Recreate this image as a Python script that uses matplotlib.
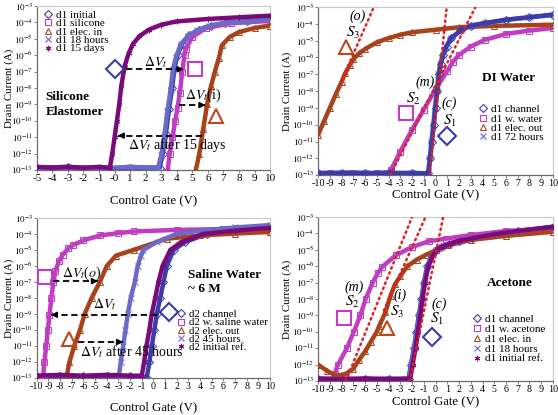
import numpy as np
import matplotlib
matplotlib.use('Agg')
import matplotlib.pyplot as plt
from matplotlib.lines import Line2D
from matplotlib.ticker import FixedLocator, NullLocator

plt.rcParams['font.family'] = ['Liberation Serif', 'DejaVu Serif']
plt.rcParams['mathtext.fontset'] = 'stix'

C_CH = '#3c3ca8'
C_WET = '#c03cc0'
C_EL = '#a8421a'
C_HR = '#6a6ac8'
C_REF = '#7a0a7a'
C_SLOPE = '#e02020'
STAR = (6, 2, 0)

# ---- top left: silicone elastomer (log10 of drain current) ----
tl_v_initial = [-5, -3, -1, 1, 2.9, 3.1, 3.3, 3.5, 3.7, 3.85, 4.05, 4.35, 4.8, 5.4, 6.2, 7.1, 8.5, 10]
tl_i_initial = [-12.85, -12.8, -12.9, -12.85, -12.85, -12.0, -10.8, -9.3, -8.0, -6.8, -6.0, -5.3, -4.8, -4.46, -4.2, -4.05, -3.95, -3.85]
tl_v_silicone = [3.4, 3.55, 3.72, 3.9, 4.05, 4.2, 4.35, 4.5, 4.6, 5.0, 5.85, 7.5, 10]
tl_i_silicone = [-13.1, -12.0, -11.0, -10.0, -9.2, -8.3, -7.0, -6.0, -5.6, -4.9, -4.36, -4.06, -3.92]
tl_v_elec = [5.2, 5.45, 5.7, 5.95, 6.2, 6.45, 6.7, 6.9, 7.4, 8.0, 9.0, 10]
tl_i_elec = [-13.1, -12.0, -10.5, -9.0, -7.9, -7.0, -6.2, -5.4, -4.9, -4.6, -4.35, -4.2]
tl_v_18h = [-5, -3, -1, 1, 2.8, 3.0, 3.2, 3.4, 3.6, 3.75, 3.95, 4.25, 4.7, 5.3, 6.1, 7.0, 8.5, 10]
tl_i_18h = [-12.9, -12.85, -12.9, -12.8, -12.85, -12.1, -10.9, -9.4, -8.1, -6.9, -6.1, -5.35, -4.85, -4.5, -4.22, -4.05, -3.93, -3.83]
tl_v_15d = [-5, -4, -3, -2, -1, -0.3, -0.15, 0, 0.15, 0.3, 0.43, 0.64, 0.9, 1.2, 1.6, 2.2, 3, 4, 6, 8, 10]
tl_i_15d = [-12.8, -12.85, -12.8, -12.85, -12.8, -12.85, -12.0, -11.0, -10.0, -9.0, -7.9, -6.7, -5.9, -5.3, -4.85, -4.45, -4.15, -3.95, -3.8, -3.7, -3.6]
tl_labels = ['d1 initial', 'd1 silicone', 'd1 elec. in', 'd1 18 hours', 'd1 15 days']

# ---- top right: DI water ----
tr_v_channel = [-10, -8, -6, -4, -2, -0.6, -0.45, -0.3, -0.15, 0, 0.15, 0.3, 0.45, 0.65, 0.94, 1.36, 2.2, 3, 4.2, 6, 8, 10]
tr_i_channel = [-12.9, -12.85, -12.9, -12.85, -12.9, -12.9, -12.0, -11.0, -10.0, -9.0, -8.0, -7.0, -6.4, -5.85, -5.35, -4.85, -4.35, -4.1, -3.95, -3.75, -3.6, -3.45]
tr_v_water = [-9, -7, -5, -4, -3.8, -3, -2, -1, 0, 1, 1.5, 2, 3, 4.2, 6, 8, 10]
tr_i_water = [-12.9, -12.85, -12.9, -12.85, -12.7, -11.6, -10.3, -9.1, -7.9, -6.8, -6.25, -5.85, -5.35, -4.95, -4.6, -4.4, -4.25]
tr_v_elec = [-10, -9.5, -9, -8.5, -8, -7.7, -7.3, -7, -6.5, -6, -5, -4, -3, -2, 0, 2, 5, 10]
tr_i_elec = [-10.6, -9.8, -9.0, -8.2, -7.45, -6.95, -6.45, -6.1, -5.75, -5.5, -5.1, -4.85, -4.65, -4.5, -4.35, -4.2, -4.12, -4.05]
tr_v_72h = [-10, -8, -6, -4, -2, -0.65, -0.5, -0.35, -0.2, -0.05, 0.1, 0.25, 0.4, 0.6, 0.9, 1.3, 2.2, 3, 4.2, 6, 8, 10]
tr_i_72h = [-12.85, -12.9, -12.85, -12.9, -12.85, -12.9, -12.0, -11.0, -10.0, -9.0, -8.0, -7.0, -6.4, -5.85, -5.35, -4.85, -4.37, -4.12, -3.97, -3.77, -3.62, -3.47]
tr_slope_v = [[-8.0, -5.25], [-0.5, 0.95], [-3.85, 3.4]]
tr_slope_i = [[-7.4, -3.0], [-13.0, -3.0], [-13.0, -3.0]]
tr_labels = ['d1 channel', 'd1 w. water', 'd1 elec. out', 'd1 72 hours']

# ---- bottom left: saline water ----
bl_v_channel = [-10, -8, -6, -4, -2, -0.58, -0.35, -0.14, 0.08, 0.29, 0.58, 0.86, 1.15, 1.73, 2.73, 4.6, 7, 10]
bl_i_channel = [-12.9, -12.85, -12.9, -12.85, -12.9, -13.0, -12.0, -11.0, -10.0, -9.0, -8.0, -7.0, -6.0, -5.0, -4.5, -4.0, -3.7, -3.5]
bl_v_saline = [-9.5, -9.35, -9.2, -9.05, -8.92, -8.75, -8.58, -8.4, -8.1, -7.77, -7.3, -6.9, -6, -4.6, -3, -1.7, 2, 6, 10]
bl_i_saline = [-13.2, -12.0, -11.0, -10.0, -9.05, -8.0, -7.0, -6.3, -5.7, -5.3, -4.9, -4.7, -4.4, -4.1, -3.95, -3.85, -3.75, -3.7, -3.65]
bl_v_elec = [-7.5, -7.2, -6.8, -6.3, -5.9, -5.3, -4.6, -4.0, -3.2, -1.7, 1.15, 4, 7, 10]
bl_i_elec = [-13.1, -12.0, -11.0, -10.0, -9.0, -8.0, -7.0, -6.0, -5.35, -5.0, -4.3, -4.1, -3.98, -3.88]
bl_v_45h = [-3.0, -2.8, -2.6, -2.4, -2.2, -1.95, -1.6, -1.35, -1.1, -0.86, 0.29, 2.0, 4, 7, 10]
bl_i_45h = [-13.0, -12.0, -11.0, -10.0, -9.0, -8.0, -7.0, -6.0, -5.4, -5.0, -4.5, -4.0, -3.8, -3.6, -3.45]
bl_v_ref = [-10, -8, -6, -4, -2, -1.0, -0.8, -0.6, -0.35, -0.15, 0.15, 0.43, 0.78, 1.45, 2.4, 4.3, 7, 10]
bl_i_ref = [-12.85, -12.8, -12.85, -12.8, -12.85, -12.85, -12.0, -11.0, -10.0, -9.0, -8.0, -7.0, -6.0, -5.0, -4.5, -4.0, -3.8, -3.62]
bl_labels = ['d2 channel', 'd2 w. saline water', 'd2 elec. out', 'd2 45 hours', 'd2 initial ref.']

# ---- bottom right: acetone ----
br_v_channel = [-10, -8, -6, -4, -2.3, -2.1, -1.84, -1.63, -1.42, -1.2, -0.99, -0.71, -0.3, 0, 0.5, 1.13, 2, 3.1, 5, 7, 10]
br_i_channel = [-12.9, -12.85, -12.9, -12.85, -12.9, -12.0, -11.0, -10.0, -9.0, -8.0, -7.0, -6.0, -5.3, -5.0, -4.8, -4.63, -4.45, -4.3, -4.05, -3.85, -3.6]
br_v_acetone = [-8.9, -8.6, -8.3, -7.55, -6.95, -6.4, -5.95, -5.35, -4.9, -4.55, -3.4, -2.0, -0.57, 0.85, 3, 6, 10]
br_i_acetone = [-13.1, -12.6, -12.0, -11.0, -10.0, -9.0, -8.0, -7.0, -6.4, -6.05, -5.34, -4.83, -4.48, -4.32, -4.1, -3.85, -3.7]
br_v_elec = [-10, -9.2, -8.4, -7.6, -7.0, -6.5, -6.0, -5.5, -5.0, -4.8, -4.26, -3.83, -3.45, -3.0, -2.4, -1.6, -0.8, 0, 1.1, 3, 6, 10]
br_i_elec = [-12.0, -12.4, -12.7, -12.55, -12.25, -11.7, -11.2, -10.6, -10.0, -9.65, -8.8, -7.8, -7.1, -6.6, -6.0, -5.6, -5.3, -5.03, -4.73, -4.4, -4.15, -3.9]
br_v_18h = [-10, -8, -6, -4, -2.25, -2.05, -1.8, -1.58, -1.37, -1.15, -0.95, -0.66, -0.25, 0.05, 0.55, 1.15, 2, 3.1, 5, 7, 10]
br_i_18h = [-12.85, -12.9, -12.85, -12.9, -12.85, -12.0, -11.0, -10.0, -9.0, -8.0, -7.0, -6.0, -5.3, -5.0, -4.8, -4.63, -4.45, -4.3, -4.05, -3.85, -3.6]
br_v_ref = [-10, -8, -6, -4, -2.15, -1.95, -1.7, -1.5, -1.3, -1.1, -0.9, -0.6, -0.2, 0.1, 0.6, 1.2, 2, 3.1, 5, 7, 10]
br_i_ref = [-12.85, -12.9, -12.85, -12.9, -12.85, -12.0, -11.0, -10.0, -9.0, -8.0, -7.0, -6.0, -5.3, -5.0, -4.8, -4.63, -4.45, -4.3, -4.05, -3.85, -3.6]
br_slope_v = [[-7.8, -2.0], [-4.4, -0.85], [-2.2, 0.65]]
br_slope_i = [[-13.3, -3.0], [-8.7, -3.0], [-13.0, -3.0]]
br_labels = ['d1 channel', 'd1 w. acetone', 'd1 elec. in', 'd1 18 hours', 'd1 initial ref.']

STYLES = [('D', C_CH), ('s', C_WET), ('^', C_EL), ('x', C_HR), (STAR, C_REF)]


def setup_axes(ax, xmin, ylab_x, xlab_y, zero_label='0'):
    ax.set_yscale('log')
    ax.set_xlim(xmin, 10)
    ax.set_ylim(1e-13, 1e-3)
    ax.yaxis.set_major_locator(FixedLocator([10.0 ** k for k in range(-13, -2)]))
    ax.yaxis.set_minor_locator(NullLocator())
    ax.set_yticklabels([r'$10^{%d}$' % k for k in range(-13, -2)])
    xt = list(range(xmin, 11))
    ax.set_xticks(xt)
    ax.set_xticklabels([zero_label if v == 0 else str(v) for v in xt])
    ax.tick_params(axis='both', direction='out', length=2, width=0.6, color='#707070', pad=1)
    ax.tick_params(axis='x', labelsize=7.2 if xmin < -5 else 8.0)
    ax.tick_params(axis='y', labelsize=6.6, pad=0.8)
    for s in ['left', 'bottom']:
        ax.spines[s].set_color('#6a6a6a')
        ax.spines[s].set_linewidth(0.9)
    for s in ['top', 'right']:
        ax.spines[s].set_color('#c8c8c8')
        ax.spines[s].set_linewidth(0.8)
    ax.set_xlabel('Control Gate (V)', fontsize=9.2)
    ax.set_ylabel('Drain Current (A)', fontsize=7.8)
    ax.yaxis.set_label_coords(ylab_x, 0.5)
    ax.xaxis.set_label_coords(0.5, xlab_y)


def draw_curves(ax, curves, labels, leg_xy, leg_space, zorders=None, fs=8):
    handles = []
    for k, (v, li) in enumerate(curves):
        m, c = STYLES[k]
        z = 2 + k if zorders is None else zorders[k]
        cur = 10.0 ** np.array(li)
        ax.plot(v, cur, color=c, lw=3.2, zorder=z, solid_capstyle='round')
        ax.plot(v, cur, ls='none', marker=m, ms=4, mfc='none', mec=c, mew=0.7, zorder=z)
        handles.append(Line2D([], [], ls='none', marker=m, ms=3.8, mfc='none', mec=c, mew=0.8))
    ax.legend(handles, labels, loc='upper left', bbox_to_anchor=leg_xy, frameon=False,
              fontsize=fs, handlelength=0.8, handletextpad=0.3, labelspacing=leg_space,
              borderpad=0, borderaxespad=0)


def big_mark(ax, x, ly, m, c, ms):
    ax.plot([x], [10.0 ** ly], marker=m, ms=ms, mfc='none', mec=c, mew=1.5, zorder=20)


def harrow(ax, x0, x1, ly):
    y = 10.0 ** ly
    ax.plot([x0, x1], [y, y], color='black', lw=1.3, ls=(0, (3.5, 2)), zorder=21)
    d = 0.35 if x1 > x0 else -0.35
    ax.annotate('', xy=(x1, y), xytext=(x1 - d, y),
                arrowprops=dict(arrowstyle='-|>', color='black', lw=1, mutation_scale=9,
                                shrinkA=0, shrinkB=0), zorder=22)


def slopes(ax, vs, ls):
    for v, li in zip(vs, ls):
        ax.plot(v, 10.0 ** np.array(li), color=C_SLOPE, lw=1.8, ls=(0, (0.6, 1.6)),
                dash_capstyle='round', zorder=30)


def txt(ax, x, ly, s, size=10, ha='center', **kw):
    ax.text(x, 10.0 ** ly, s, fontsize=size, ha=ha, va='center', zorder=25, **kw)


fig = plt.figure(figsize=(5.58, 4.15), dpi=100)
ax1 = fig.add_axes([0.066, 0.590, 0.418, 0.396])
ax2 = fig.add_axes([0.570, 0.578, 0.421, 0.405])
ax3 = fig.add_axes([0.066, 0.089, 0.418, 0.386])
ax4 = fig.add_axes([0.570, 0.082, 0.421, 0.395])

# top left
setup_axes(ax1, -5, -0.1, -0.146, '-0')
draw_curves(ax1, [(tl_v_initial, tl_i_initial), (tl_v_silicone, tl_i_silicone), (tl_v_elec, tl_i_elec),
                  (tl_v_18h, tl_i_18h), (tl_v_15d, tl_i_15d)], tl_labels, (0.03, 0.975), -0.12)
big_mark(ax1, 0.05, -6.85, 'D', C_CH, 9)
big_mark(ax1, 5.2, -6.85, 's', C_WET, 10)
big_mark(ax1, 6.5, -9.7, '^', '#c04818', 10)
harrow(ax1, 0.75, 4.45, -6.86)
harrow(ax1, 4.15, 5.85, -9.04)
harrow(ax1, 5.6, 0.2, -10.9)
txt(ax1, 2.65, -6.4, r'$\Delta V_t$')
txt(ax1, 4.55, -8.45, r'$\Delta V_t$(i)', ha='left')
txt(ax1, 0.85, -11.45, r'$\Delta V_t$ after 15 days', ha='left')
txt(ax1, -4.45, -9.0, 'Silicone\nElastomer', size=9.5, ha='left', fontweight='bold', linespacing=1.25)

# top right
setup_axes(ax2, -10, -0.11, -0.08)
draw_curves(ax2, [(tr_v_channel, tr_i_channel), (tr_v_water, tr_i_water), (tr_v_elec, tr_i_elec),
                  (tr_v_72h, tr_i_72h)], tr_labels, (0.683, 0.42), -0.05, zorders=[6, 3, 4, 5])
slopes(ax2, tr_slope_v, tr_slope_i)
txt(ax2, -6.6, -3.55, '(o)', style='italic')
txt(ax2, -7.0, -4.55, r'$S_3$', size=11)
big_mark(ax2, -7.6, -5.35, '^', '#c04818', 10)
txt(ax2, -0.9, -7.45, '(m)', style='italic')
txt(ax2, -1.9, -8.45, r'$S_2$', size=11)
big_mark(ax2, -2.5, -9.3, 's', C_WET, 10)
txt(ax2, 1.2, -8.7, '(c)', style='italic')
txt(ax2, 1.2, -9.8, r'$S_1$', size=11)
big_mark(ax2, 0.95, -10.7, 'D', C_CH, 9)
txt(ax2, 6.2, -7.2, 'DI Water', size=9.5, fontweight='bold')

# bottom left
setup_axes(ax3, -10, -0.1, -0.144)
draw_curves(ax3, [(bl_v_channel, bl_i_channel), (bl_v_saline, bl_i_saline), (bl_v_elec, bl_i_elec),
                  (bl_v_45h, bl_i_45h), (bl_v_ref, bl_i_ref)], bl_labels, (0.60, 0.428), -0.12, fs=7.8)
big_mark(ax3, -9.3, -6.67, 's', C_WET, 10)
big_mark(ax3, 1.3, -8.9, 'D', C_CH, 9)
big_mark(ax3, -7.2, -10.55, '^', '#c04818', 10)
harrow(ax3, -8.65, -4.75, -6.95)
harrow(ax3, 0.3, -8.8, -9.05)
harrow(ax3, -6.5, -2.6, -10.75)
txt(ax3, -7.85, -6.45, r'$\Delta V_t$($o$)', ha='left')
txt(ax3, -4.2, -8.4, r'$\Delta V_t$')
txt(ax3, -6.3, -11.35, r'$\Delta V_t$ after 45 hours', ha='left')
txt(ax3, 3.0, -7.0, 'Saline Water\n~ 6 M', size=9.5, ha='left', fontweight='bold', linespacing=1.3)

# bottom right
setup_axes(ax4, -10, -0.11, -0.088)
draw_curves(ax4, [(br_v_channel, br_i_channel), (br_v_acetone, br_i_acetone), (br_v_elec, br_i_elec),
                  (br_v_18h, br_i_18h), (br_v_ref, br_i_ref)], br_labels, (0.658, 0.405), 0.0)
slopes(ax4, br_slope_v, br_slope_i)
txt(ax4, -6.95, -7.3, '(m)', style='italic')
txt(ax4, -7.05, -8.2, r'$S_2$', size=11)
big_mark(ax4, -7.75, -9.15, 's', C_WET, 10)
txt(ax4, -3.0, -7.8, '(i)', style='italic')
txt(ax4, -3.3, -8.8, r'$S_3$', size=11)
big_mark(ax4, -4.1, -9.75, '^', '#c04818', 10)
txt(ax4, 0.3, -8.3, '(c)', style='italic')
txt(ax4, 0.1, -9.2, r'$S_1$', size=11)
big_mark(ax4, -0.3, -10.3, 'D', C_CH, 9)
txt(ax4, 6.3, -7.0, 'Acetone', size=9.5, fontweight='bold')

fig.savefig('out.png', dpi=100, facecolor='white')
